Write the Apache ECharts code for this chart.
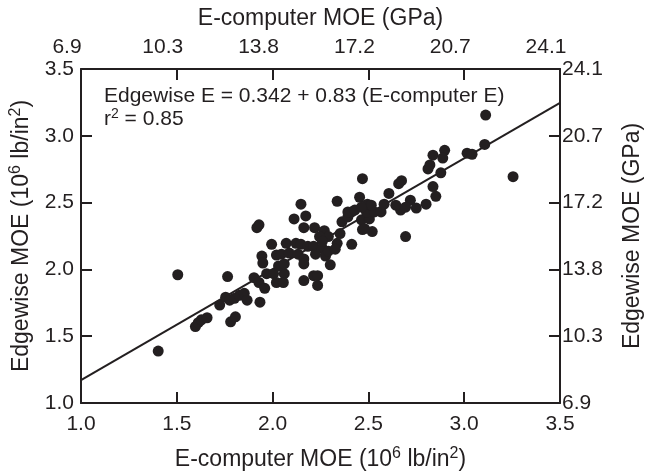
<!DOCTYPE html>
<html><head><meta charset="utf-8">
<script src="https://cdn.jsdelivr.net/npm/echarts@6/dist/echarts.min.js"></script>
<style>html,body{margin:0;padding:0;background:#fff}#c{width:652px;height:476px}</style>
</head><body><div id="c"></div>
<script>
// E-computer MOE (10^6 lb/in^2)
const eComputer = [1.403,1.505,1.597,1.612,1.628,1.658,1.781,1.806,1.724,1.755,1.776,1.801,1.827,1.852,1.867,1.934,1.765,1.903,1.929,1.944,1.949,1.959,1.929,1.918,1.969,2.005,2.061,1.995,2.071,2.122,2.148,2.184,2.214,2.260,2.020,2.046,2.087,2.133,2.163,2.224,2.276,2.291,2.163,2.031,2.061,2.301,2.163,2.214,2.020,2.056,2.235,2.235,2.148,2.337,2.112,2.173,2.163,2.219,2.270,2.362,2.352,2.291,2.337,2.413,2.469,2.520,2.694,2.393,2.413,2.464,2.505,2.480,2.393,2.429,2.490,2.531,2.566,2.668,2.454,2.469,2.495,2.515,2.464,2.582,2.643,2.719,2.694,2.750,2.801,2.607,2.673,2.658,2.837,2.852,2.898,2.837,2.888,2.821,2.811,2.878,3.015,3.041,3.107,3.112,3.255,2.245,2.260,2.327];
// Edgewise MOE (10^6 lb/in^2)
const edgewise = [1.389,1.960,1.572,1.601,1.623,1.638,1.608,1.645,1.733,1.792,1.770,1.784,1.806,1.821,1.770,1.755,1.946,1.938,1.902,2.100,2.048,1.858,2.334,2.312,1.968,1.968,1.968,2.188,2.195,2.195,2.188,2.173,2.173,2.158,2.107,2.114,2.122,2.114,2.078,2.114,2.100,2.136,2.041,2.026,2.041,2.034,1.916,1.953,1.902,1.902,1.953,1.880,2.488,2.510,2.378,2.400,2.312,2.312,2.290,2.356,2.268,2.246,2.195,2.188,2.298,2.283,2.246,2.393,2.430,2.371,2.378,2.305,2.430,2.444,2.430,2.430,2.430,2.444,2.540,2.679,2.488,2.481,2.466,2.488,2.481,2.518,2.466,2.459,2.488,2.569,2.664,2.642,2.620,2.547,2.891,2.855,2.833,2.782,2.752,2.723,2.870,2.862,2.935,3.155,2.694,2.246,2.210,2.151];
const intercept = 0.342, slope = 0.83;
const fitRange = [1.0, 3.5];
const psiTicks = ['1.0','1.5','2.0','2.5','3.0','3.5'];
const gpaTicks = ['6.9','10.3','13.8','17.2','20.7','24.1'];

const ink = '#231f20';
const FONT = '"Liberation Sans", Arial, Helvetica, sans-serif';
const TICK = 21, TITLE = 23;
const chart = echarts.init(document.getElementById('c'), null, {renderer:'canvas'});
const pts = eComputer.map((x,i)=>[x, edgewise[i]]);
const fit = fitRange.map(x=>[x, intercept + slope*x]);
const rich = {
  a:{fontSize:TITLE, fontFamily:FONT, color:ink},
  s:{fontSize:16, fontFamily:FONT, color:ink, padding:[0,0,11,0]}
};
function axisBase(pos, labels, margin){
  return {
    type:'value', position:pos, min:1, max:3.5, interval:0.5,
    axisLine:{show:true, onZero:false, lineStyle:{color:ink, width:2}},
    axisTick:{show:true, inside:true, length:11, lineStyle:{color:ink, width:2}},
    axisLabel:{show:true, margin:margin, color:ink, fontSize:TICK, fontFamily:FONT,
      formatter:(v)=>{ const i = Math.round((v-1)/0.5); return labels[i]; }},
    splitLine:{show:false}
  };
}
const xBottom = Object.assign(axisBase('bottom', psiTicks, 11), {
  name:'{a|E-computer MOE (10}{s|6}{a| lb/in}{s|2}{a|)}', nameLocation:'middle', nameGap:43,
  nameTextStyle:{rich:rich}
});
const xTop = Object.assign(axisBase('top', gpaTicks, 11), {
  name:'E-computer MOE (GPa)', nameLocation:'middle', nameGap:39,
  nameTextStyle:{fontSize:TITLE, fontFamily:FONT, color:ink}
});
xTop.axisLabel.padding = [0, 28, 0, 0];
const yLeft = Object.assign(axisBase('left', psiTicks, 7), {
  name:'{a|Edgewise MOE (10}{s|6}{a| lb/in}{s|2}{a|)}', nameLocation:'middle', nameGap:46, nameRotate:90,
  nameTextStyle:{rich:rich}
});
const yRight = Object.assign(axisBase('right', gpaTicks, 2), {
  name:'Edgewise MOE (GPa)', nameLocation:'middle', nameGap:61, nameRotate:90,
  nameTextStyle:{fontSize:TITLE, fontFamily:FONT, color:ink}
});
chart.setOption({
  animation:false,
  backgroundColor:'#fff',
  grid:{left:80, right:82, top:69, bottom:66, containLabel:false},
  xAxis:[xBottom, xTop],
  yAxis:[yLeft, yRight],
  graphic:[{
    type:'text', left:104, top:86,
    style:{
      text:'{a|Edgewise E = 0.342 + 0.83 (E-computer E)}\n{a|r}{s|2}{a| = 0.85}',
      rich:{a:{fontSize:21, fontFamily:FONT, fill:ink, lineHeight:23}, s:{fontSize:14, fontFamily:FONT, fill:ink, padding:[0,0,10,0], lineHeight:23}}
    }
  }],
  series:[
    {type:'line', xAxisIndex:0, yAxisIndex:0, data:fit, showSymbol:false, symbol:'none',
     lineStyle:{color:ink, width:2}, z:2, silent:true},
    {type:'scatter', xAxisIndex:0, yAxisIndex:0, data:pts, symbol:'circle', symbolSize:11,
     itemStyle:{color:ink, opacity:1}, z:3}
  ]
});
</script></body></html>
